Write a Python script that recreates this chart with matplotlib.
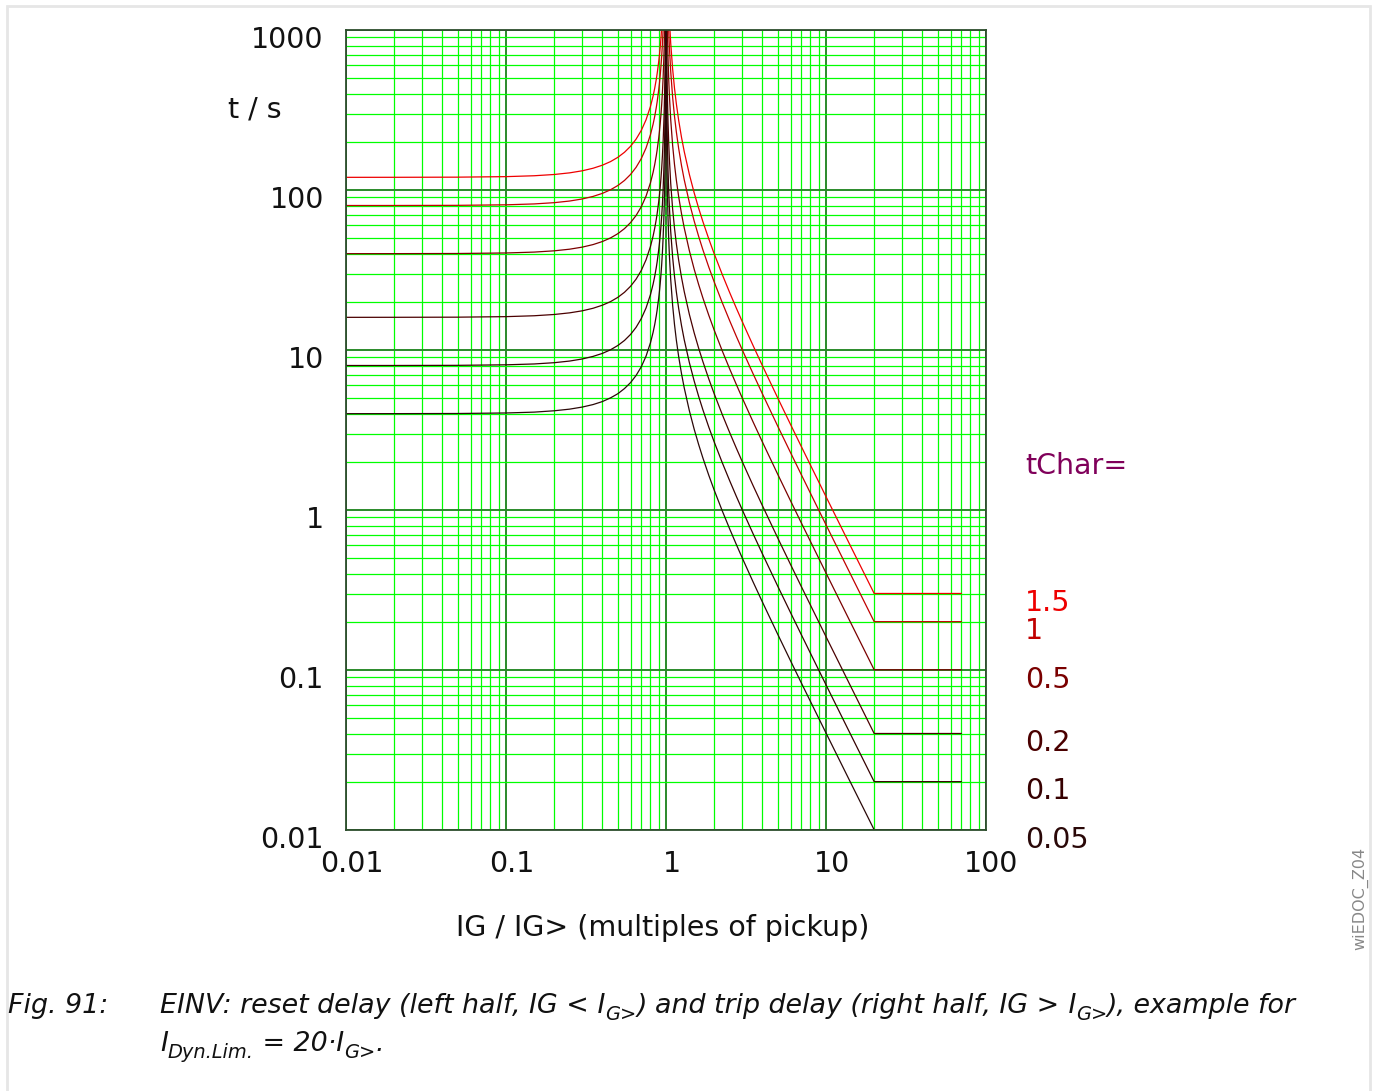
#!/usr/bin/env python3

import numpy as np
import matplotlib
matplotlib.use("Agg")
import matplotlib.pyplot as plt
from matplotlib.patches import Rectangle

# time multipliers (one curve each)
tchar = [1.5, 1, 0.5, 0.2, 0.1, 0.05]
tchar_labels = ["1.5", "1", "0.5", "0.2", "0.1", "0.05"]
curve_colors = ["#ee0000", "#c00000", "#7a0000", "#4a0000", "#360000", "#2a0808"]

# left half: reset delay, IG < IG>
m_reset = [0.01, 0.02, 0.05, 0.1, 0.15, 0.2, 0.25, 0.3, 0.35, 0.4, 0.45, 0.5, 0.55, 0.6, 0.65,
           0.7, 0.75, 0.8, 0.83, 0.85, 0.87, 0.88, 0.9, 0.91, 0.92, 0.93, 0.94, 0.95, 0.96,
           0.97, 0.975, 0.98, 0.985, 0.99, 0.993, 0.995, 0.998]
t_reset_15 = [120.0, 120.05, 120.3, 121.2, 122.76, 125.0, 128.0, 131.87, 136.76, 142.86, 150.47,
              160.0, 172.05, 187.5, 207.8, 235.29, 274.29, 333.33, 385.73, 432.44, 493.62, 531.92,
              631.58, 698.09, 781.25, 888.23, 1030.9, 1230.8, 1530.6, 2030.4, 2430.5, 3030.3,
              4030.2, 6030.2, 8601.6, 12030, 30030]
t_reset_1 = [80.0, 80.03, 80.2, 80.8, 81.84, 83.33, 85.33, 87.91, 91.17, 95.24, 100.31,
             106.67, 114.70, 125.0, 138.53, 156.86, 182.86, 222.22, 257.15, 288.29, 329.08, 354.61,
             421.05, 465.39, 520.83, 592.15, 687.29, 820.51, 1020.4, 1353.6, 1620.3, 2020.2,
             2686.8, 4020.1, 5734.4, 8020.1, 20020]
t_reset_05 = [40.0, 40.02, 40.1, 40.4, 40.92, 41.67, 42.67, 43.96, 45.59, 47.62, 50.16,
              53.33, 57.35, 62.5, 69.27, 78.43, 91.43, 111.11, 128.58, 144.15, 164.54, 177.31,
              210.53, 232.70, 260.42, 296.08, 343.65, 410.26, 510.2, 676.8, 810.1, 1010.1,
              1343.4, 2010.1, 2867.2, 4010.1, 10010]
t_reset_02 = [16.0, 16.01, 16.04, 16.16, 16.37, 16.67, 17.07, 17.58, 18.23, 19.05, 20.06,
              21.33, 22.94, 25.0, 27.71, 31.37, 36.57, 44.44, 51.43, 57.66, 65.82, 70.92,
              84.21, 93.08, 104.17, 118.43, 137.46, 164.10, 204.08, 270.72, 324.05, 404.04,
              537.36, 804.02, 1146.9, 1604.0, 4004]
t_reset_01 = [8.0, 8.003, 8.02, 8.08, 8.18, 8.33, 8.53, 8.79, 9.12, 9.52, 10.03,
              10.67, 11.47, 12.5, 13.85, 15.69, 18.29, 22.22, 25.72, 28.83, 32.91, 35.46,
              42.11, 46.54, 52.08, 59.22, 68.73, 82.05, 102.04, 135.36, 162.03, 202.02,
              268.68, 402.01, 573.44, 802.01, 2002]
t_reset_005 = [4.0, 4.002, 4.01, 4.04, 4.09, 4.17, 4.27, 4.40, 4.56, 4.76, 5.02,
               5.33, 5.74, 6.25, 6.93, 7.84, 9.14, 11.11, 12.86, 14.41, 16.45, 17.73,
               21.05, 23.27, 26.04, 29.61, 34.36, 41.03, 51.02, 67.68, 81.01, 101.01,
               134.34, 201.01, 286.72, 401.01, 1001]

# right half: trip delay, IG > IG>, flat above IDyn.Lim = 20
m_trip = [1.001, 1.002, 1.003, 1.005, 1.007, 1.01, 1.015, 1.02, 1.03, 1.04, 1.05, 1.07, 1.1,
          1.13, 1.16, 1.2, 1.25, 1.3, 1.4, 1.5, 1.6, 1.7, 1.85, 2, 2.25, 2.5, 2.75, 3, 3.5,
          4, 5, 6, 7, 10, 14, 20, 70]
t_trip_15 = [59970, 29970, 19970, 11970, 8541.6, 5970.2, 3970.2, 2970.3, 1970.4, 1470.6, 1170.7,
             828.17, 571.43, 433.37, 347.22, 272.73, 213.33, 173.91, 125.0, 96.0, 76.92, 63.49,
             49.54, 40.0, 29.54, 22.86, 18.29, 15.0, 10.67, 8.0, 5.0, 3.429, 2.5, 1.212, 0.6154,
             0.3008, 0.3008]
t_trip_1 = [39980, 19980, 13313, 7980.0, 5694.4, 3980.1, 2646.8, 1980.2, 1313.6, 980.39, 780.49,
            552.11, 380.95, 288.91, 231.48, 181.82, 142.22, 115.94, 83.33, 64.0, 51.28, 42.33,
            33.02, 26.67, 19.69, 15.24, 12.19, 10.0, 7.111, 5.333, 3.333, 2.286, 1.667, 0.8081,
            0.4103, 0.2005, 0.2005]
t_trip_05 = [19990, 9990, 6656.7, 3990, 2847.2, 1990.0, 1323.4, 990.1, 656.8, 490.2, 390.24,
             276.05, 190.48, 144.46, 115.74, 90.91, 71.11, 57.97, 41.67, 32.0, 25.64, 21.16,
             16.51, 13.33, 9.846, 7.619, 6.095, 5.0, 3.556, 2.667, 1.667, 1.143, 0.8333, 0.4040,
             0.2051, 0.1003, 0.1003]
t_trip_02 = [7996, 3996, 2662.7, 1596, 1138.9, 796.0, 529.4, 396.0, 262.7, 196.08, 156.10,
             110.42, 76.19, 57.78, 46.30, 36.36, 28.44, 23.19, 16.67, 12.8, 10.26, 8.466,
             6.604, 5.333, 3.938, 3.048, 2.438, 2.0, 1.422, 1.067, 0.6667, 0.4571, 0.3333, 0.1616,
             0.0821, 0.0401, 0.0401]
t_trip_01 = [3998, 1998, 1331.3, 798, 569.44, 398.0, 264.68, 198.02, 131.36, 98.04, 78.05,
             55.21, 38.10, 28.89, 23.15, 18.18, 14.22, 11.59, 8.333, 6.4, 5.128, 4.233,
             3.302, 2.667, 1.969, 1.524, 1.219, 1.0, 0.7111, 0.5333, 0.3333, 0.2286, 0.1667, 0.0808,
             0.0410, 0.02005, 0.02005]
t_trip_005 = [1999, 999, 665.7, 399, 284.72, 199.0, 132.34, 99.01, 65.68, 49.02, 39.02,
              27.61, 19.05, 14.45, 11.57, 9.091, 7.111, 5.797, 4.167, 3.2, 2.564, 2.116,
              1.651, 1.333, 0.9846, 0.7619, 0.6095, 0.5, 0.3556, 0.2667, 0.1667, 0.1143, 0.0833,
              0.0404, 0.0205, 0.01003, 0.01003]

reset_curves = [t_reset_15, t_reset_1, t_reset_05, t_reset_02, t_reset_01, t_reset_005]
trip_curves = [t_trip_15, t_trip_1, t_trip_05, t_trip_02, t_trip_01, t_trip_005]

x_ticks = [0.01, 0.1, 1, 10, 100]
x_ticklabels = ["0.01", "0.1", "1", "10", "100"]
y_ticks = [0.01, 0.1, 1, 10, 100, 1000]
y_ticklabels = ["0.01", "0.1", "1", "10", "100", "1000"]

W, H = 1378, 1091
FS = 20.5
CAP_FS = 19.4
fig = plt.figure(figsize=(W / 100, H / 100), dpi=100)

# light frame around the whole figure
fig.patches.append(Rectangle((7 / W, -0.01), (1370 - 7) / W, 1 - 6 / H + 0.01,
                             transform=fig.transFigure, fill=False,
                             edgecolor="#e6e6e6", linewidth=2))

ax = fig.add_axes([346 / W, 1 - 830 / H, (986 - 346) / W, (830 - 30) / H])
ax.set_xscale("log")
ax.set_yscale("log")
ax.set_xlim(0.01, 100)
ax.set_ylim(0.01, 1000)

ax.grid(True, which="minor", color="#00ff00", linewidth=0.9)
ax.grid(True, which="major", color="#2a8a2a", linewidth=1.4)
ax.set_axisbelow(True)
ax.xaxis.set_minor_locator(matplotlib.ticker.LogLocator(base=10, subs=np.arange(2, 10), numticks=20))
ax.yaxis.set_minor_locator(matplotlib.ticker.LogLocator(base=10, subs=np.arange(2, 10), numticks=20))
ax.set_xticks(x_ticks)
ax.set_yticks(y_ticks)
ax.tick_params(which="both", length=0, labelleft=False, labelbottom=False)
for s in ax.spines.values():
    s.set_color("#2d4d2d")
    s.set_linewidth(1.3)

for tr, tt, col in zip(reset_curves, trip_curves, curve_colors):
    ax.plot(m_reset, tr, color=col, linewidth=0.9)
    ax.plot(m_trip, tt, color=col, linewidth=0.9)

# tick labels, placed like the original (slightly below the grid lines)
for v, lab in zip(y_ticks, y_ticklabels):
    ax.annotate(lab, xy=(0, v), xycoords=("axes fraction", "data"),
                xytext=(-16, -7.5), textcoords="offset points",
                ha="right", va="center", fontsize=FS, color="#111111")
for v, lab in zip(x_ticks, x_ticklabels):
    ax.annotate(lab, xy=(v, 0), xycoords=("data", "axes fraction"),
                xytext=(4, -24.5), textcoords="offset points",
                ha="center", va="center", fontsize=FS, color="#111111")

fig.text(255 / W, 1 - 110 / H, "t / s", ha="center", va="center", fontsize=FS, color="#111111")
fig.text(663 / W, 1 - 928 / H, "IG / IG> (multiples of pickup)", ha="center", va="center",
         fontsize=FS, color="#111111")

# right hand labels for tChar
fig.text(1025 / W, 1 - 466 / H, "tChar=", ha="left", va="center", fontsize=FS, color="#80005a")
for tt, lab, col in zip(trip_curves, tchar_labels, curve_colors):
    ax.annotate(lab, xy=(1, tt[-1]), xycoords=("axes fraction", "data"),
                xytext=(28, -7), textcoords="offset points",
                ha="left", va="center", fontsize=FS, color=col)

fig.text(1360 / W, 1 - 898 / H, "wiEDOC_Z04", rotation=90, ha="center", va="center",
         fontsize=11.5, color="#888888")


# caption, written as runs of normal text and subscripts
renderer = fig.canvas.get_renderer()


def text_runs(x, y, runs, fs=CAP_FS):
    for s, sub in runs:
        size = fs * 0.72 if sub else fs
        dy = -7 if sub else 0
        t = fig.text(x / W, 1 - (y - dy) / H, s, ha="left", va="baseline", fontsize=size,
                     style="italic", color="#111111")
        x += t.get_window_extent(renderer).width


fig.text(8 / W, 1 - 1013 / H, "Fig. 91:", ha="left", va="baseline", fontsize=CAP_FS,
         style="italic", color="#111111")
text_runs(160, 1013, [("EINV: reset delay (left half, IG <", False), (" I", False), ("G>", True),
                      (") and trip delay (right half, IG >", False), (" I", False), ("G>", True),
                      ("), example for", False)])
text_runs(160, 1051, [("I", False), ("Dyn.Lim.", True), (" = 20·I", False), ("G>", True),
                      (".", False)])

fig.savefig("out.png", dpi=100)
